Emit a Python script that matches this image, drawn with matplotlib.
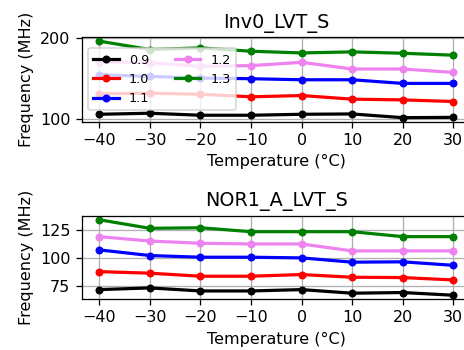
import matplotlib
matplotlib.use("Agg")
import matplotlib.pyplot as plt

temps = [-40, -30, -20, -10, 0, 10, 20, 30]
voltages = ["0.9", "1.0", "1.1", "1.2", "1.3"]
colors = ["black", "red", "blue", "violet", "green"]

# Inv0_LVT_S frequencies (MHz)
inv_09 = [106.2, 107.5, 105.0, 105.0, 106.2, 106.6, 102.0, 102.4]
inv_10 = [131.5, 132.3, 131.0, 127.8, 129.4, 124.9, 124.0, 122.0]
inv_11 = [155.2, 153.0, 151.0, 150.2, 148.9, 148.9, 144.4, 144.4]
inv_12 = [171.0, 170.0, 165.5, 166.4, 170.5, 162.2, 162.2, 158.0]
inv_13 = [196.7, 186.3, 188.4, 184.2, 182.1, 183.4, 181.7, 179.3]

# NOR1_A_LVT_S frequencies (MHz)
nor_09 = [72.0, 73.5, 70.8, 70.8, 72.0, 68.8, 69.4, 67.0]
nor_10 = [88.0, 86.6, 83.9, 83.9, 85.4, 83.0, 82.7, 80.6]
nor_11 = [107.3, 102.3, 100.8, 100.8, 100.2, 96.4, 96.7, 93.6]
nor_12 = [119.1, 115.2, 113.2, 112.6, 112.6, 106.4, 106.4, 106.4]
nor_13 = [134.1, 126.5, 127.0, 123.5, 123.5, 123.5, 119.1, 119.1]

DPI = 115
W, H = 464, 350
fig = plt.figure(figsize=(W / DPI, H / DPI), dpi=DPI)
ax1 = fig.add_axes([81.6 / W, 1 - 121.5 / H, (471 - 81.6) / W, (121.5 - 37.3) / H])
ax2 = fig.add_axes([81.6 / W, 1 - 299 / H, (471 - 81.6) / W, (299 - 216) / H])

# top panel
for ys, lab, c in zip([inv_09, inv_10, inv_11, inv_12, inv_13], voltages, colors):
    ax1.plot(temps, ys, marker="o", markersize=4, linewidth=2, color=c, label=lab)
ax1.set_title("Inv0_LVT_S")
ax1.set_xlabel("Temperature (°C)")
ax1.set_ylabel("Frequency (MHz)")
ax1.set_xticks(temps)
ax1.grid(True)
ax1.legend(loc="center left", ncol=2, fontsize=8)

# bottom panel
for ys, lab, c in zip([nor_09, nor_10, nor_11, nor_12, nor_13], voltages, colors):
    ax2.plot(temps, ys, marker="o", markersize=4, linewidth=2, color=c, label=lab)
ax2.set_title("NOR1_A_LVT_S")
ax2.set_xlabel("Temperature (°C)")
ax2.set_ylabel("Frequency (MHz)")
ax2.set_xticks(temps)
ax2.grid(True)

fig.savefig("out.png", dpi=DPI)
